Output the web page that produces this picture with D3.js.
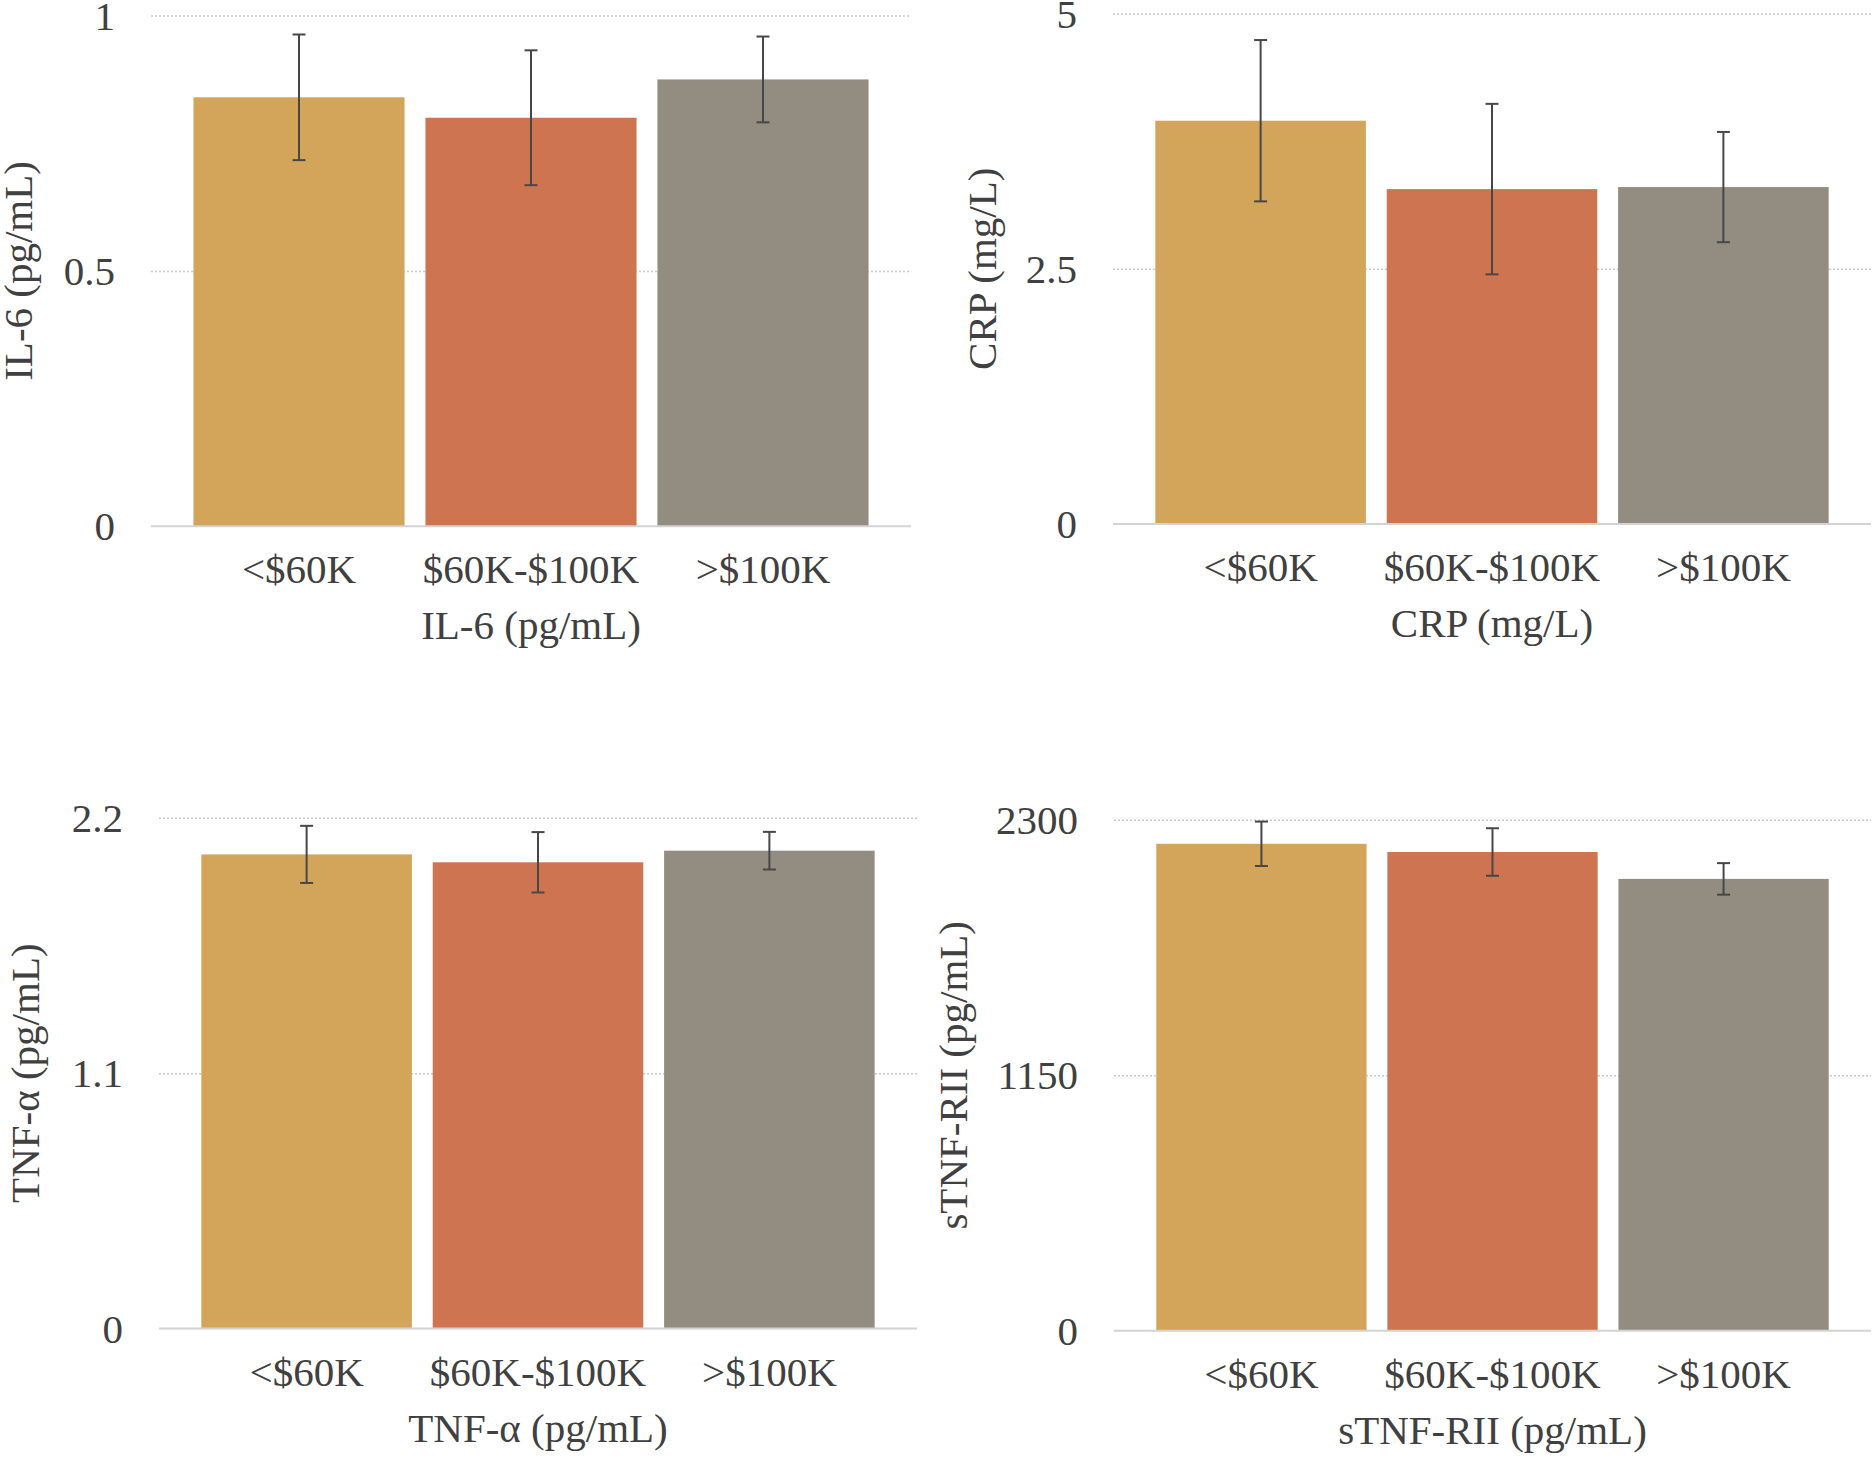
<!DOCTYPE html>
<html>
<head>
<meta charset="utf-8">
<script src="https://cdn.jsdelivr.net/npm/d3@7"></script>
<style>
  body { margin: 0; background: #fff; }
  text { font-family: "Liberation Serif", "Times New Roman", serif; fill: #404040; }
</style>
</head>
<body>
<svg id="chart" width="1873" height="1459"></svg>
<script>
// income groups, same for all four panels
var groups = ["<$60K", "$60K-$100K", ">$100K"];
var colors = ["#d2a55a", "#ce7450", "#928d80"];

var il6Means = [0.84, 0.80, 0.875];
var il6Errs = [0.123, 0.132, 0.084];
var il6Ticks = [0, 0.5, 1];

var crpMeans = [3.95, 3.28, 3.30];
var crpErrs = [0.79, 0.835, 0.54];
var crpTicks = [0, 2.5, 5];

var tnfMeans = [2.042, 2.008, 2.058];
var tnfErrs = [0.123, 0.13, 0.081];
var tnfTicks = [0, 1.1, 2.2];

var stnfMeans = [2192, 2155, 2034];
var stnfErrs = [100, 107, 71];
var stnfTicks = [0, 1150, 2300];

var svg = d3.select("#chart");

function drawPanel(p, means, errs, ticks, label) {
  var g = svg.append("g");

  var x = d3.scaleBand()
      .domain(groups)
      .range([p.left, p.right])
      .paddingInner(0.09)
      .paddingOuter(0.183);

  var y = d3.scaleLinear()
      .domain([0, ticks[ticks.length - 1]])
      .range([p.bottom, p.top]);

  // gridlines + tick labels
  var yAxis = g.append("g")
      .attr("transform", "translate(" + p.left + ",0)")
      .call(d3.axisLeft(y).tickValues(ticks).tickSize(-(p.right - p.left)).tickPadding(36).tickFormat(function(d){ return d; }));
  yAxis.select(".domain").remove();
  yAxis.selectAll(".tick line")
      .attr("stroke", "#c9c9c9")
      .attr("stroke-width", 1.5)
      .attr("stroke-dasharray", "2,2")
      .attr("opacity", function(d){ return d === 0 ? 0 : 1; });
  yAxis.selectAll(".tick text")
      .attr("font-size", 41)
      .attr("dy", "0.33em")
      .attr("fill", "#404040");

  var data = groups.map(function(k, i){ return {group: k, mean: means[i], err: errs[i], color: colors[i]}; });

  g.selectAll(".bar")
    .data(data)
    .enter().append("rect")
      .attr("class", "bar")
      .attr("x", function(d){ return x(d.group); })
      .attr("width", x.bandwidth())
      .attr("y", function(d){ return y(d.mean); })
      .attr("height", function(d){ return y(0) - y(d.mean); })
      .attr("fill", function(d){ return d.color; });

  // baseline
  g.append("line")
      .attr("x1", p.left).attr("x2", p.right)
      .attr("y1", y(0)).attr("y2", y(0))
      .attr("stroke", "#d3d3d3")
      .attr("stroke-width", 2);

  // error bars
  var eb = g.selectAll(".err")
    .data(data)
    .enter().append("g")
      .attr("class", "err")
      .attr("stroke", "#474747")
      .attr("stroke-width", 2);
  eb.append("line")
      .attr("x1", function(d){ return x(d.group) + x.bandwidth() / 2; })
      .attr("x2", function(d){ return x(d.group) + x.bandwidth() / 2; })
      .attr("y1", function(d){ return y(d.mean + d.err); })
      .attr("y2", function(d){ return y(d.mean - d.err); });
  [1, -1].forEach(function(s){
    eb.append("line")
        .attr("x1", function(d){ return x(d.group) + x.bandwidth() / 2 - 6.5; })
        .attr("x2", function(d){ return x(d.group) + x.bandwidth() / 2 + 6.5; })
        .attr("y1", function(d){ return y(d.mean + s * d.err); })
        .attr("y2", function(d){ return y(d.mean + s * d.err); });
  });

  // category labels
  var xAxis = g.append("g")
      .attr("transform", "translate(0," + p.bottom + ")")
      .call(d3.axisBottom(x).tickSize(0));
  xAxis.select(".domain").remove();
  xAxis.selectAll(".tick text")
      .attr("font-size", 41)
      .attr("y", 57)
      .attr("dy", 0)
      .attr("fill", "#404040");

  // x title
  g.append("text")
      .attr("x", (p.left + p.right) / 2)
      .attr("y", p.bottom + 113)
      .attr("text-anchor", "middle")
      .attr("font-size", 41)
      .text(label);

  // y title
  g.append("text")
      .attr("transform", "translate(" + p.titleX + "," + (p.top + p.bottom) / 2 + ") rotate(-90)")
      .attr("text-anchor", "middle")
      .attr("font-size", 41)
      .text(label);
}

drawPanel({left: 151, right: 911, top: 15.6, bottom: 526.3, titleX: 32}, il6Means, il6Errs, il6Ticks, "IL-6 (pg/mL)");
drawPanel({left: 1113, right: 1871, top: 13.5, bottom: 524, titleX: 996}, crpMeans, crpErrs, crpTicks, "CRP (mg/L)");
drawPanel({left: 159, right: 917, top: 817.7, bottom: 1328.6, titleX: 39}, tnfMeans, tnfErrs, tnfTicks, "TNF-\u03b1 (pg/mL)");
drawPanel({left: 1114, right: 1871, top: 819.8, bottom: 1330.8, titleX: 967}, stnfMeans, stnfErrs, stnfTicks, "sTNF-RII (pg/mL)");
</script>
</body>
</html>
